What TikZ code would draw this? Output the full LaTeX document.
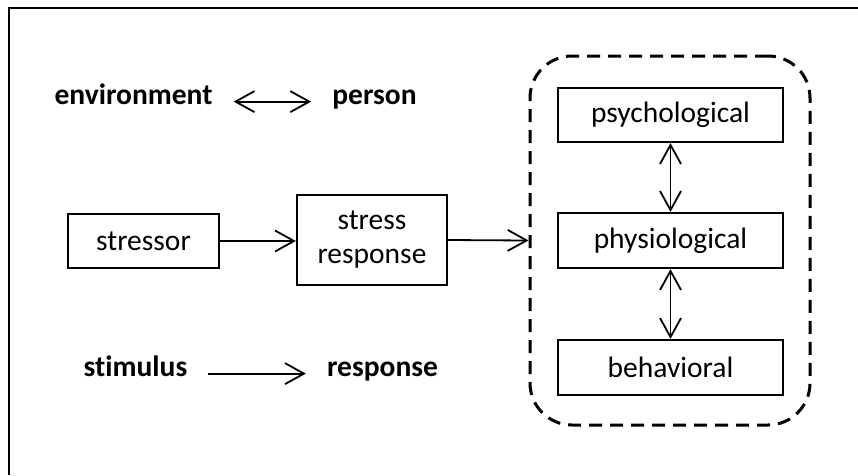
\documentclass[tikz,border=0pt]{standalone}
\usepackage{fontspec}
\setmainfont{Carlito}[Ligatures=NoCommon]
\usetikzlibrary{arrows.meta}
\tikzset{
  box/.style={draw, line width=2.2pt, inner sep=0pt, minimum height=54pt,
    font=\fontsize{29.5}{34}\selectfont},
  label/.style={inner xsep=21pt, inner ysep=0pt, anchor=base,
    font=\fontsize{29.5}{34}\selectfont\bfseries},
  link/.style={line width=1.8pt, -{Straight Barb[length=19pt, width=21pt, line width=1.8pt]}},
  biglink/.style={line width=1.8pt, {Straight Barb[length=19pt, width=21pt, line width=1.8pt]}-{Straight Barb[length=19pt, width=21pt, line width=1.8pt]}},
}
\begin{document}
\begin{tikzpicture}[x=1pt, y=-1pt]
\useasboundingbox (0,0) rectangle (858,475);
% open frame along the top and left
\draw[line width=2.8pt] (9,475) -- (9,8) -- (858,8);

% environment <-> person
\node[label] (env) at (133.5,104) {environment};
\node[label] (person) at (374.5,104) {person};
\draw[biglink] (env.mid east) -- (person.mid west);

% stimulus -> response
\node[label] (stim) at (135.5,376) {stimulus};
\node[label] (resp) at (382.5,376) {response};
\draw[link] (stim.mid east) -- (resp.mid west);

% stressor chain
\node[box, minimum width=151pt] (stressor) at (143.5,241) {stressor};
\node[box, minimum width=150pt, minimum height=90pt, align=center] (sresp) at (372,240) {stress\\response};

% grouped outcomes
\node[draw, dashed, line width=3pt, dash pattern=on 13pt off 8pt, rounded corners=42pt,
  minimum width=280pt, minimum height=369pt, inner sep=0pt] (group) at (670,240.5) {};
\node[box, minimum width=225pt] (psych) at (670.5,115) {psychological};
\node[box, minimum width=225pt, minimum height=55pt] (physio) at (670.5,240.5) {physiological};
\node[box, minimum width=225pt, minimum height=55pt] (behav) at (670.5,367.5) {behavioral};

\draw[link] (stressor.east) -- (sresp.west |- stressor.east);
\draw[link] (sresp.east) -- (group.west);
\draw[biglink] (psych.south) -- (physio.north);
\draw[biglink] (physio.south) -- (behav.north);
\end{tikzpicture}
\end{document}
